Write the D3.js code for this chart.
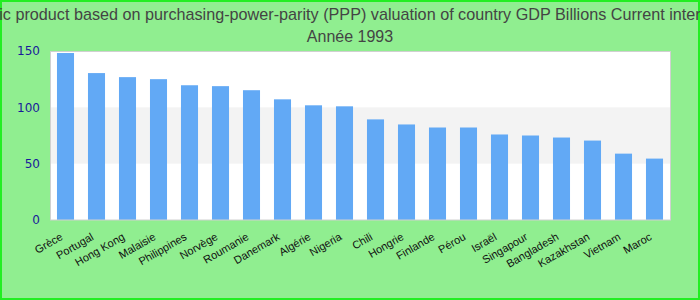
<!DOCTYPE html>
<html>
<head>
<meta charset="utf-8">
<script src="https://cdn.jsdelivr.net/npm/d3@7"></script>
<style>
  body { margin: 0; }
  svg { display: block; }
</style>
</head>
<body>
<div id="chart"></div>
<script>
// data
var countries = ["Grèce", "Portugal", "Hong Kong", "Malaisie", "Philippines", "Norvège", "Roumanie",
  "Danemark", "Algérie", "Nigeria", "Chili", "Hongrie", "Finlande", "Pérou", "Israël",
  "Singapour", "Bangladesh", "Kazakhstan", "Vietnam", "Maroc"];
var gdpValues = [148.2, 130.4, 126.8, 125, 119.6, 118.8, 115.2, 107.1, 101.8, 100.9,
  89.3, 84.8, 82.1, 82.1, 75.9, 75, 73.2, 70.5, 58.9, 54.5];
var yTicks = [0, 50, 100, 150];

var title = "Gross domestic product based on purchasing-power-parity (PPP) valuation of country GDP Billions Current international dollar";
var subtitle = "Année 1993";

var svgWidth = 700;
var svgHeight = 300;
var margin = { top: 51, right: 30, bottom: 80, left: 50 };
var width = svgWidth - margin.left - margin.right;
var height = svgHeight - margin.top - margin.bottom;

var svg = d3.select("#chart")
  .append("svg")
  .attr("width", svgWidth)
  .attr("height", svgHeight);

// background + outer border
svg.append("rect")
  .attr("x", 1).attr("y", 1)
  .attr("width", svgWidth - 2).attr("height", svgHeight - 2)
  .attr("fill", "#90ee90")
  .attr("stroke", "#22ee22")
  .attr("stroke-width", 2);

// long title, centred, runs past both edges like the original
svg.append("text")
  .attr("x", svgWidth / 2)
  .attr("y", 20)
  .attr("text-anchor", "middle")
  .attr("font-family", "Liberation Sans, Arial, sans-serif")
  .attr("font-size", 16.2)
  .attr("fill", "#444")
  .text(title);

svg.append("text")
  .attr("x", svgWidth / 2)
  .attr("y", 42)
  .attr("text-anchor", "middle")
  .attr("font-family", "Liberation Sans, Arial, sans-serif")
  .attr("font-size", 16)
  .attr("fill", "#444")
  .text(subtitle);

var chartGroup = svg.append("g")
  .attr("transform", `translate(${margin.left}, ${margin.top})`);

var xScale = d3.scaleBand()
  .domain(countries)
  .range([0, width])
  .paddingInner(0.45)
  .paddingOuter(0.225);

var yScale = d3.scaleLinear()
  .domain([0, 150])
  .range([height, 0]);

// plot background
chartGroup.append("rect")
  .attr("width", width)
  .attr("height", height)
  .attr("fill", "#fff");

// alternating band
chartGroup.append("rect")
  .attr("x", 0)
  .attr("y", yScale(100))
  .attr("width", width)
  .attr("height", yScale(50) - yScale(100))
  .attr("fill", "#f3f3f3");

// bars
chartGroup.selectAll(".bar")
  .data(gdpValues)
  .enter()
  .append("rect")
  .attr("class", "bar")
  .attr("x", (d, i) => xScale(countries[i]))
  .attr("y", d => yScale(d))
  .attr("width", xScale.bandwidth())
  .attr("height", d => height - yScale(d))
  .attr("fill", "#62a9f5");

// plot border
chartGroup.append("rect")
  .attr("x", 0.5).attr("y", 0.5)
  .attr("width", width).attr("height", height - 0.5)
  .attr("fill", "none")
  .attr("stroke", "#d0d0d0")
  .attr("stroke-width", 1);

// y axis
var leftAxis = d3.axisLeft(yScale).tickValues(yTicks).tickSize(0).tickPadding(10);
var yAxis = chartGroup.append("g").call(leftAxis);
yAxis.select(".domain").remove();
yAxis.selectAll("text")
  .attr("font-family", "DejaVu Sans, sans-serif")
  .attr("font-size", 12)
  .attr("fill", "#1a1a9a");

// x axis, rotated labels
var bottomAxis = d3.axisBottom(xScale).tickSize(0).tickPadding(0);
var xAxis = chartGroup.append("g")
  .attr("transform", `translate(0, ${height})`)
  .call(bottomAxis);
xAxis.select(".domain").remove();
xAxis.selectAll("text")
  .attr("font-family", "Liberation Sans, Arial, sans-serif")
  .attr("font-size", 11)
  .attr("fill", "#111")
  .attr("text-anchor", "end")
  .attr("dy", "0")
  .attr("y", 0)
  .attr("transform", "translate(-2, 19) rotate(-30)");
</script>
</body>
</html>
